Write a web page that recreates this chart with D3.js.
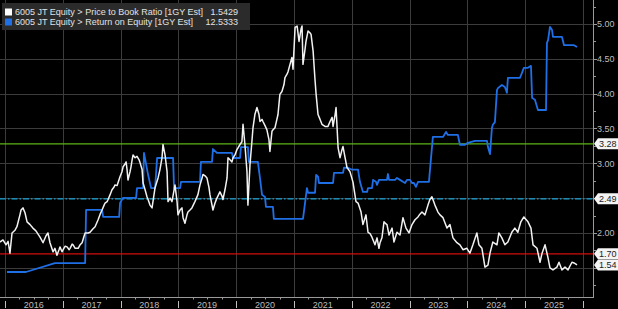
<!DOCTYPE html>
<html><head><meta charset="utf-8">
<script src="https://cdn.jsdelivr.net/npm/d3@7"></script>
<style>body{margin:0;background:#000}svg{display:block}</style>
</head><body><svg id="c" width="618" height="309"></svg>
<script>
// ---- DATA ----
const seriesNames = ["6005 JT Equity > Price to Book Ratio [1GY Est]", "6005 JT Equity > Return on Equity [1GY Est]"];
const lastValues = ["1.5429", "12.5333"];
const refValues = [3.28, 2.49, 1.70];
const currentLabel = 1.54;
const pbSeries = [
["2015-11-30",1.87],["2015-12-19",1.90],["2016-01-07",1.83],["2016-01-20",1.88],["2016-02-01",1.71],["2016-02-14",2.00],["2016-03-04",2.04],["2016-03-16",2.09],["2016-04-04",2.26],["2016-04-11",2.33],["2016-04-23",2.36],["2016-05-06",2.29],["2016-05-19",2.16],["2016-06-07",2.12],["2016-06-25",2.07],["2016-07-14",2.03],["2016-08-09",1.94],["2016-08-28",1.86],["2016-09-16",1.96],["2016-09-28",2.00],["2016-10-11",1.86],["2016-10-30",1.73],["2016-11-11",1.78],["2016-11-24",1.68],["2016-12-07",1.76],["2016-12-13",1.80],["2016-12-26",1.73],
["2017-01-02",1.76],["2017-01-15",1.81],["2017-01-27",1.80],["2017-02-09",1.76],["2017-02-15",1.78],["2017-02-28",1.84],["2017-03-06",1.83],["2017-03-19",1.78],["2017-04-07",1.78],["2017-04-19",1.83],["2017-05-02",1.86],["2017-05-15",1.96],["2017-05-21",2.00],["2017-06-09",2.00],["2017-06-21",2.01],["2017-07-10",2.06],["2017-07-23",2.09],["2017-08-11",2.19],["2017-08-24",2.27],["2017-09-05",2.33],["2017-09-18",2.40],["2017-09-24",2.43],["2017-10-07",2.45],["2017-10-13",2.48],["2017-10-26",2.55],["2017-11-07",2.62],["2017-11-20",2.66],["2017-11-26",2.69],["2017-12-09",2.68],["2017-12-15",2.72],["2017-12-28",2.81],
["2018-01-09",2.88],["2018-01-16",2.95],["2018-01-28",2.99],["2018-02-04",3.02],["2018-02-10",2.91],["2018-02-16",2.76],["2018-03-01",2.88],["2018-03-07",2.95],["2018-03-14",3.05],["2018-03-20",3.12],["2018-04-02",3.08],["2018-04-14",3.10],["2018-04-27",3.05],["2018-05-03",3.01],["2018-05-16",2.91],["2018-05-22",2.72],["2018-06-04",2.62],["2018-06-16",2.52],["2018-06-23",2.48],["2018-07-05",2.40],["2018-07-18",2.36],["2018-08-06",2.65],["2018-08-25",2.79],["2018-09-06",2.91],["2018-09-19",3.08],["2018-09-25",3.27],["2018-10-08",3.12],["2018-10-21",2.88],["2018-10-27",2.45],["2018-11-09",2.50],["2018-11-21",2.45],["2018-12-10",2.69],["2018-12-23",2.45],["2018-12-29",2.26],
["2019-01-11",2.33],["2019-01-23",2.36],["2019-01-30",2.22],["2019-02-11",2.14],["2019-02-24",2.26],["2019-03-02",2.30],["2019-03-15",2.33],["2019-03-27",2.36],["2019-04-15",2.45],["2019-05-04",2.55],["2019-05-17",2.69],["2019-05-30",2.79],["2019-06-05",2.84],["2019-06-18",2.82],["2019-06-30",2.79],["2019-07-13",2.65],["2019-07-19",2.55],["2019-08-01",2.40],["2019-08-07",2.33],["2019-08-20",2.43],["2019-09-01",2.50],["2019-09-20",2.59],["2019-10-03",2.53],["2019-10-09",2.48],["2019-10-22",2.62],["2019-11-04",2.79],["2019-11-10",3.08],["2019-11-23",3.05],["2019-12-05",3.02],["2019-12-12",3.08],["2019-12-24",3.12],
["2020-01-06",3.20],["2020-01-12",3.22],["2020-01-25",3.27],["2020-02-06",3.31],["2020-02-13",3.56],["2020-02-25",3.27],["2020-03-09",2.88],["2020-03-15",2.40],["2020-03-28",2.98],["2020-04-09",3.31],["2020-04-16",3.51],["2020-04-28",3.70],["2020-05-11",3.80],["2020-05-24",3.70],["2020-05-30",3.60],["2020-06-12",3.63],["2020-06-18",3.60],["2020-07-01",3.54],["2020-07-13",3.48],["2020-07-26",3.34],["2020-08-01",3.17],["2020-08-14",3.46],["2020-08-20",3.48],["2020-09-02",3.51],["2020-09-14",3.63],["2020-09-21",3.70],["2020-10-03",3.99],["2020-10-16",4.03],["2020-10-29",4.13],["2020-11-04",4.23],["2020-11-17",4.28],["2020-11-23",4.31],["2020-12-06",4.42],["2020-12-18",4.52],["2020-12-25",4.35],
["2021-01-07",4.95],["2021-01-20",4.97],["2021-02-01",4.75],["2021-02-14",4.93],["2021-02-20",4.97],["2021-02-26",4.42],["2021-03-11",4.64],["2021-03-17",4.75],["2021-03-30",4.90],["2021-04-12",4.87],["2021-04-18",4.85],["2021-05-01",4.61],["2021-05-13",4.20],["2021-05-20",3.99],["2021-06-01",3.70],["2021-06-14",3.63],["2021-06-26",3.56],["2021-07-15",3.53],["2021-08-03",3.53],["2021-08-16",3.60],["2021-08-29",3.66],["2021-09-04",3.53],["2021-09-17",3.70],["2021-09-23",3.80],["2021-10-06",3.22],["2021-10-18",3.08],["2021-10-31",3.20],["2021-11-06",3.24],["2021-11-19",3.08],["2021-12-01",2.94],["2021-12-20",2.88],
["2022-01-08",2.73],["2022-01-27",2.45],["2022-02-09",2.43],["2022-02-28",2.30],["2022-03-12",2.12],["2022-03-31",2.26],["2022-04-13",2.01],["2022-04-26",1.99],["2022-05-08",1.94],["2022-05-27",1.83],["2022-06-09",1.93],["2022-06-21",1.78],["2022-06-28",1.86],["2022-07-10",1.93],["2022-07-23",2.16],["2022-08-05",2.13],["2022-08-11",2.12],["2022-08-24",1.97],["2022-09-12",2.07],["2022-09-24",1.87],["2022-10-13",2.01],["2022-11-01",1.97],["2022-11-20",2.22],["2022-12-09",2.07],["2022-12-28",2.00],
["2023-01-16",2.12],["2023-02-04",2.19],["2023-02-23",2.23],["2023-03-07",2.27],["2023-03-20",2.30],["2023-04-08",2.26],["2023-04-27",2.40],["2023-05-09",2.48],["2023-05-22",2.52],["2023-06-10",2.40],["2023-06-29",2.30],["2023-07-12",2.26],["2023-07-31",2.22],["2023-08-25",2.07],["2023-09-13",2.12],["2023-10-02",1.93],["2023-10-27",1.86],["2023-11-15",1.83],["2023-12-04",1.76],["2023-12-29",1.78],
["2024-01-17",1.71],["2024-02-05",1.83],["2024-03-01",2.00],["2024-03-14",1.83],["2024-04-02",1.78],["2024-04-21",1.51],["2024-05-10",1.54],["2024-05-23",1.71],["2024-06-10",1.87],["2024-07-06",1.83],["2024-07-18",2.00],["2024-08-06",1.93],["2024-08-25",1.83],["2024-09-13",1.87],["2024-10-08",2.01],["2024-10-27",2.07],["2024-11-15",2.01],["2024-12-04",2.16],["2024-12-23",2.23],
["2025-01-18",2.16],["2025-02-06",2.07],["2025-02-19",1.83],["2025-03-16",1.78],["2025-04-04",1.58],["2025-04-17",1.71],["2025-05-06",1.83],["2025-05-25",1.64],["2025-06-06",1.50],["2025-06-25",1.47],["2025-07-20",1.51],["2025-08-02",1.58],["2025-08-21",1.47],["2025-09-09",1.51],["2025-09-28",1.47],["2025-10-23",1.58],["2025-11-05",1.57],["2025-11-24",1.5429]
];
const roeSeries = [
["2016-01-13",6.77],["2016-05-12",6.77],["2016-11-11",7.00],["2017-05-21",7.00],["2017-05-27",8.36],["2017-09-05",8.36],["2017-09-12",8.18],["2017-12-22",8.18],["2017-12-28",8.54],["2018-01-16",8.67],["2018-04-08",8.67],["2018-04-14",8.92],["2018-05-22",8.92],["2018-05-28",9.82],["2018-06-23",9.26],["2018-07-12",8.92],["2018-08-06",8.92],["2018-08-19",9.69],["2018-11-28",9.69],["2018-12-04",8.92],
["2019-01-11",8.92],["2019-01-17",9.08],["2019-05-17",9.08],["2019-05-23",9.59],["2019-08-01",9.59],["2019-08-07",9.92],["2019-09-01",9.82],["2019-12-05",9.82],["2019-12-12",9.69],["2020-01-25",9.69],["2020-01-31",9.97],["2020-03-15",9.97],["2020-03-21",9.59],["2020-05-17",9.59],["2020-05-30",9.18],["2020-06-12",8.75],["2020-07-01",8.69],["2020-07-07",8.44],["2020-08-20",8.44],["2020-08-26",8.13],
["2021-02-26",8.13],["2021-03-23",8.92],["2021-03-30",8.80],["2021-05-13",8.80],["2021-05-20",9.26],["2021-06-01",9.21],["2021-06-07",9.05],["2021-09-04",9.05],["2021-09-10",9.31],["2021-11-06",9.31],["2021-11-12",9.44],["2021-12-07",9.44],["2022-01-02",9.39],["2022-02-09",9.39],["2022-02-21",9.08],["2022-03-12",8.82],["2022-04-07",8.82],["2022-04-13",8.92],["2022-05-08",8.92],["2022-05-15",9.13],["2022-06-02",9.08],["2022-06-09",9.00],["2022-06-21",9.13],["2022-08-11",9.13],["2022-08-17",9.28],["2022-08-24",9.13],["2022-10-01",9.13],["2022-10-13",9.18],["2022-11-01",9.13],["2022-11-20",9.08],["2022-12-03",9.05],["2022-12-15",9.13],
["2023-01-03",9.13],["2023-01-16",9.05],["2023-01-28",9.05],["2023-02-10",8.95],["2023-02-23",9.08],["2023-05-03",9.08],["2023-05-28",10.23],["2023-07-31",10.23],["2023-08-19",10.36],["2023-08-31",10.28],["2023-11-02",10.28],["2023-11-15",10.03],["2023-12-17",10.03],["2024-01-04",10.08],["2024-02-18",10.13],["2024-05-04",10.13],["2024-05-10",9.97],["2024-05-23",9.79],["2024-06-04",10.46],["2024-06-10",10.54],["2024-06-23",10.61],["2024-07-06",11.43],["2024-07-12",11.48],["2024-08-06",11.56],["2024-08-25",11.51],["2024-09-07",11.36],["2024-09-13",11.74],["2024-11-28",11.74],["2024-12-11",11.87],["2024-12-23",12.00],
["2025-01-18",12.00],["2025-02-06",12.05],["2025-02-13",11.23],["2025-03-03",11.18],["2025-03-22",10.92],["2025-05-12",10.92],["2025-05-18",12.64],["2025-05-25",12.71],["2025-06-06",13.05],["2025-06-19",12.97],["2025-06-25",12.79],["2025-08-21",12.79],["2025-09-03",12.58],["2025-11-05",12.58],["2025-11-24",12.5333]
];
const xDomain = ["2015-11-30", "2026-03-05"];
const pbDomain = [1.081, 5.344];
const roeDomain = [6.13, 13.737];

// ---- CHART ----
const W = 618, H = 309, plotR = 593, plotB = 297;
const parse = d3.timeParse("%Y-%m-%d");
const svg = d3.select("#c");
svg.append("rect").attr("width", W).attr("height", H).attr("fill", "#000");

const x = d3.scaleTime().domain(xDomain.map(parse)).range([0, plotR]);
const y = d3.scaleLinear().domain(pbDomain).range([plotB, 0]);
const yL = d3.scaleLinear().domain(roeDomain).range([plotB, 0]);
const font = "'Liberation Sans', Arial, sans-serif";

// grid
const years = d3.timeYear.range(parse("2016-01-01"), parse("2026-01-02"));
const majors = d3.range(1.5, 5.01, 0.5);
const g = svg.append("g");
g.selectAll(".vg").data(years).join("line")
  .attr("x1", d => Math.round(x(d)) + 0.5).attr("x2", d => Math.round(x(d)) + 0.5)
  .attr("y1", 0).attr("y2", plotB).attr("stroke", "#3c3c3c").attr("stroke-width", 1);
g.selectAll(".hg").data(majors).join("line")
  .attr("x1", 0).attr("x2", plotR)
  .attr("y1", d => Math.round(y(d)) + 0.5).attr("y2", d => Math.round(y(d)) + 0.5)
  .attr("stroke", "#3c3c3c").attr("stroke-width", 1);

// reference lines
const refStyle = [
  {stroke: "#5cb31a", dash: null, w: 1.2},
  {stroke: "#1aa3d6", dash: "6,2,1.5,2", w: 1.2},
  {stroke: "#d20c0c", dash: null, w: 1.2}
];
svg.selectAll(".ref").data(refValues).join("line")
  .attr("x1", 0).attr("x2", plotR)
  .attr("y1", d => y(d)).attr("y2", d => y(d))
  .attr("stroke", (d, i) => refStyle[i].stroke)
  .attr("stroke-width", (d, i) => refStyle[i].w)
  .attr("stroke-dasharray", (d, i) => refStyle[i].dash);

// series
const lineR = d3.line().x(d => x(parse(d[0]))).y(d => yL(d[1]));
const lineP = d3.line().x(d => x(parse(d[0]))).y(d => y(d[1]));
svg.append("path").datum(roeSeries).attr("d", lineR).attr("fill", "none")
  .attr("stroke", "#1f6fe6").attr("stroke-width", 1.8).attr("stroke-linejoin", "round");
svg.append("path").datum(pbSeries).attr("d", lineP).attr("fill", "none")
  .attr("stroke", "#f2f2f2").attr("stroke-width", 1.5).attr("stroke-linejoin", "round");

// right axis
svg.append("line").attr("x1", plotR + 0.5).attr("x2", plotR + 0.5).attr("y1", 0).attr("y2", plotB + 0.5)
  .attr("stroke", "#9a9a9a");
const minors = d3.range(1.25, 5.3, 0.5);
svg.selectAll(".mt").data(minors).join("line")
  .attr("x1", plotR).attr("x2", plotR + 3)
  .attr("y1", d => Math.round(y(d)) + 0.5).attr("y2", d => Math.round(y(d)) + 0.5).attr("stroke", "#9a9a9a");
svg.selectAll(".Mt").data(majors).join("line")
  .attr("x1", plotR).attr("x2", plotR + 4)
  .attr("y1", d => Math.round(y(d)) + 0.5).attr("y2", d => Math.round(y(d)) + 0.5).attr("stroke", "#9a9a9a");
const boxVals = refValues.concat([currentLabel]);
const labelMajors = majors.filter(m => !boxVals.some(b => Math.abs(y(b) - y(m)) < 9));
svg.selectAll(".yl").data(labelMajors).join("text")
  .attr("x", plotR + 4).attr("y", d => y(d) + 3.2)
  .attr("fill", "#bdbdbd").attr("font-family", font).attr("font-size", 9)
  .text(d => d3.format(".2f")(d));

// value boxes
const bx = svg.selectAll(".vb").data(boxVals).join("g")
  .attr("transform", d => `translate(0,${y(d)})`);
bx.append("path").attr("d", `M${plotR + 1},0 L${plotR + 5},-5.5 L${W},-5.5 L${W},5.5 L${plotR + 5},5.5 Z`)
  .attr("fill", "#f4f4f4");
bx.append("text").attr("x", plotR + 6).attr("y", 3.3)
  .attr("fill", "#222").attr("font-family", font).attr("font-size", 9)
  .text(d => d3.format(".2f")(d));

// bottom axis
svg.append("line").attr("x1", 0).attr("x2", plotR + 1).attr("y1", plotB + 0.5).attr("y2", plotB + 0.5)
  .attr("stroke", "#9a9a9a");
const quarters = d3.timeMonth.every(3).range(parse("2015-12-01"), parse("2026-03-01"))
  .filter(d => d.getMonth() !== 0);
svg.selectAll(".qt").data(quarters).join("line")
  .attr("x1", d => Math.round(x(d)) + 0.5).attr("x2", d => Math.round(x(d)) + 0.5)
  .attr("y1", plotB).attr("y2", plotB + 2.5).attr("stroke", "#9a9a9a");
svg.selectAll(".yt").data(years).join("line")
  .attr("x1", d => Math.round(x(d)) + 0.5).attr("x2", d => Math.round(x(d)) + 0.5)
  .attr("y1", plotB + 4).attr("y2", plotB + 11).attr("stroke", "#bdbdbd");
svg.selectAll(".xl").data(years.slice(0, -1)).join("text")
  .attr("x", d => x(d3.timeMonth.offset(d, 6))).attr("y", plotB + 11)
  .attr("text-anchor", "middle")
  .attr("fill", "#bdbdbd").attr("font-family", font).attr("font-size", 9)
  .text(d => d3.timeFormat("%Y")(d));

// legend
const lg = svg.append("g");
lg.append("rect").attr("x", 2).attr("y", 3).attr("width", 248).attr("height", 27).attr("fill", "#2b2b2b");
const legColors = ["#ffffff", "#1f6fe6"];
seriesNames.forEach((n, i) => {
  const cy = 12 + i * 10;
  lg.append("rect").attr("x", 5).attr("y", cy - 3.5).attr("width", 7).attr("height", 7).attr("fill", legColors[i]);
  lg.append("text").attr("x", 15).attr("y", cy + 3).attr("fill", "#e2e2e2")
    .attr("font-family", font).attr("font-size", 9).text(n);
  lg.append("text").attr("x", 238).attr("y", cy + 3).attr("text-anchor", "end").attr("fill", "#e2e2e2")
    .attr("font-family", font).attr("font-size", 9).text(lastValues[i]);
});
</script></body></html>
